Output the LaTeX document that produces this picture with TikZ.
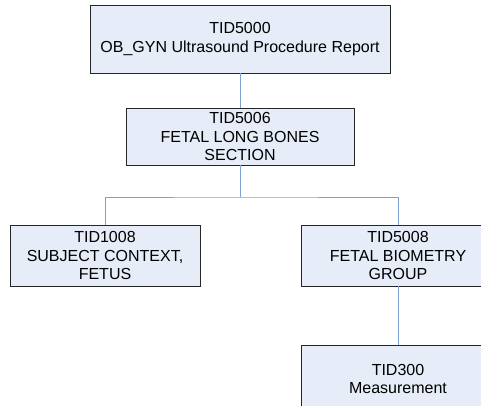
\documentclass[tikz,border=0pt]{standalone}
\usepackage{fontspec}
\setmainfont{Liberation Sans}
\definecolor{boxfill}{HTML}{E6EDF8}
\definecolor{linkblue}{HTML}{7BA0D4}
\tikzset{
  tidbox/.style={draw=black!85,fill=boxfill,line width=0.9pt,align=center,
    inner sep=0pt,font=\fontsize{16}{18.5}\selectfont},
  link/.style={draw=linkblue,line width=0.9pt}
}

\begin{document}
\begin{tikzpicture}[x=1pt,y=-1pt]
    \useasboundingbox (0,0) rectangle (481,405);
    \clip (0,0) rectangle (481,405);
    \node[tidbox,minimum width=300pt,minimum height=68pt] (rep) at (240,39) {TID5000\\OB\_GYN Ultrasound Procedure Report};
    \node[tidbox,minimum width=228pt,minimum height=57pt] (sec) at (240,136.5) {TID5006\\FETAL LONG BONES\\SECTION};
    \node[tidbox,minimum width=190pt,minimum height=61pt] (ctx) at (105,255.5) {TID1008\\SUBJECT CONTEXT,\\FETUS};
    \node[tidbox,minimum width=194pt,minimum height=61pt] (bio) at (398,255.5) {TID5008\\FETAL BIOMETRY\\GROUP};
    \node[tidbox,minimum width=194pt,minimum height=68pt] (meas) at (398,379) {TID300\\Measurement};
    \coordinate (bus) at (240,197);
    \draw[link] (rep) -- (sec);
    \draw[link] (sec) -- (bus);
    \draw[link] (ctx.north) |- (bus) -| (bio.north);
    \draw[link] (bio) -- (meas);
\end{tikzpicture}
\end{document}
